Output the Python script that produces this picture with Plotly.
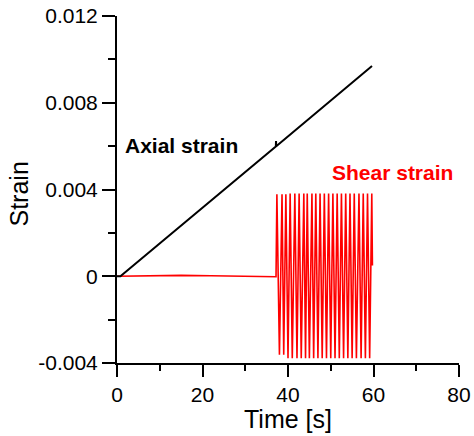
import plotly.graph_objects as go

# ---- data ----
axial_time = [0, 0.8, 37.15, 37.2, 37.25, 59.65]
axial_strain = [0, 0, 0.00598, 0.00623, 0.00599, 0.00969]

shear_time = [0, 8, 15, 22, 30, 37.2,
              37.4, 38.0, 38.6, 39.0, 39.5, 40.0, 40.5, 41.0, 41.6, 42.1,
              42.6, 43.1, 43.7, 44.1, 44.5, 45.0, 45.6, 46.0, 46.5, 47.0,
              47.5, 48.0, 48.5, 49.0, 49.5, 50.0, 50.5, 51.0, 51.5, 52.0,
              52.5, 53.0, 53.5, 54.0, 54.5, 55.0, 55.5, 56.0, 56.6, 57.1,
              57.6, 58.1, 58.6, 59.1, 59.6, 59.75]
shear_strain = [0, 0.00002, 0.00004, 0.00002, -0.00001, -0.00002,
                0.00378, -0.00362, 0.00378, -0.00362, 0.00378, -0.00378,
                0.00382, -0.00378, 0.00382, -0.00378, 0.00382, -0.00378,
                0.00382, -0.00378, 0.00382, -0.00378, 0.00382, -0.00378,
                0.00382, -0.00378, 0.00382, -0.00378, 0.00382, -0.00378,
                0.00382, -0.00378, 0.00382, -0.00378, 0.00382, -0.00378,
                0.00382, -0.00378, 0.00382, -0.00378, 0.00382, -0.00378,
                0.00382, -0.00378, 0.00382, -0.00378, 0.00382, -0.00378,
                0.00382, -0.00378, 0.00382, 0.0005]

x_ticks = [0, 20, 40, 60, 80]
y_ticks = [-0.004, 0, 0.004, 0.008, 0.012]
y_tick_text = ["-0.004", "0", "0.004", "0.008", "0.012"]

FONT = "Liberation Sans, Arial, sans-serif"

fig = go.Figure()
fig.add_trace(go.Scatter(x=shear_time, y=shear_strain, mode="lines",
                         line=dict(color="#ff0000", width=1.6), showlegend=False))
fig.add_trace(go.Scatter(x=axial_time, y=axial_strain, mode="lines",
                         line=dict(color="#000000", width=2), showlegend=False))

fig.add_annotation(x=1.5, y=0.00605, text="<b>Axial strain</b>", showarrow=False,
                   xanchor="left", yanchor="middle",
                   font=dict(family=FONT, size=21, color="#000000"))
fig.add_annotation(x=49.8, y=0.0048, text="<b>Shear strain</b>", showarrow=False,
                   xanchor="left", yanchor="middle",
                   font=dict(family=FONT, size=21, color="#ff0000"))

# axis titles
fig.add_annotation(x=0.5, y=0, xref="paper", yref="paper", text="Time [s]", showarrow=False,
                   xanchor="center", yanchor="top", yshift=-40,
                   font=dict(family=FONT, size=25, color="black"))
fig.add_annotation(x=0, y=0.5, xref="paper", yref="paper", text="Strain", showarrow=False,
                   xanchor="center", yanchor="middle", xshift=-99, yshift=-5, textangle=-90,
                   font=dict(family=FONT, size=25, color="black"))

axis_common = dict(showgrid=False, zeroline=False, showline=True, linecolor="black",
                   linewidth=2, ticks="outside", tickwidth=2, tickcolor="black",
                   tickfont=dict(family=FONT, size=21, color="black"), mirror=False,
                   automargin=False)

fig.update_xaxes(range=[0, 80], tickvals=x_ticks, ticklen=12,
                 minor=dict(dtick=10, ticklen=6, ticks="outside", tickwidth=2, tickcolor="black"),
                 **axis_common)
fig.update_yaxes(range=[-0.004, 0.012], tickvals=y_ticks, ticktext=y_tick_text, ticklen=13,
                 minor=dict(dtick=0.002, ticklen=7, ticks="outside", tickwidth=2, tickcolor="black"),
                 **axis_common)

fig.update_layout(width=474, height=436, margin=dict(l=117, r=15, t=16, b=73),
                  paper_bgcolor="white", plot_bgcolor="white")

fig.write_html("out.html", config={"displayModeBar": False},
               post_script="document.body.style.margin='0';document.body.style.overflow='hidden';")
